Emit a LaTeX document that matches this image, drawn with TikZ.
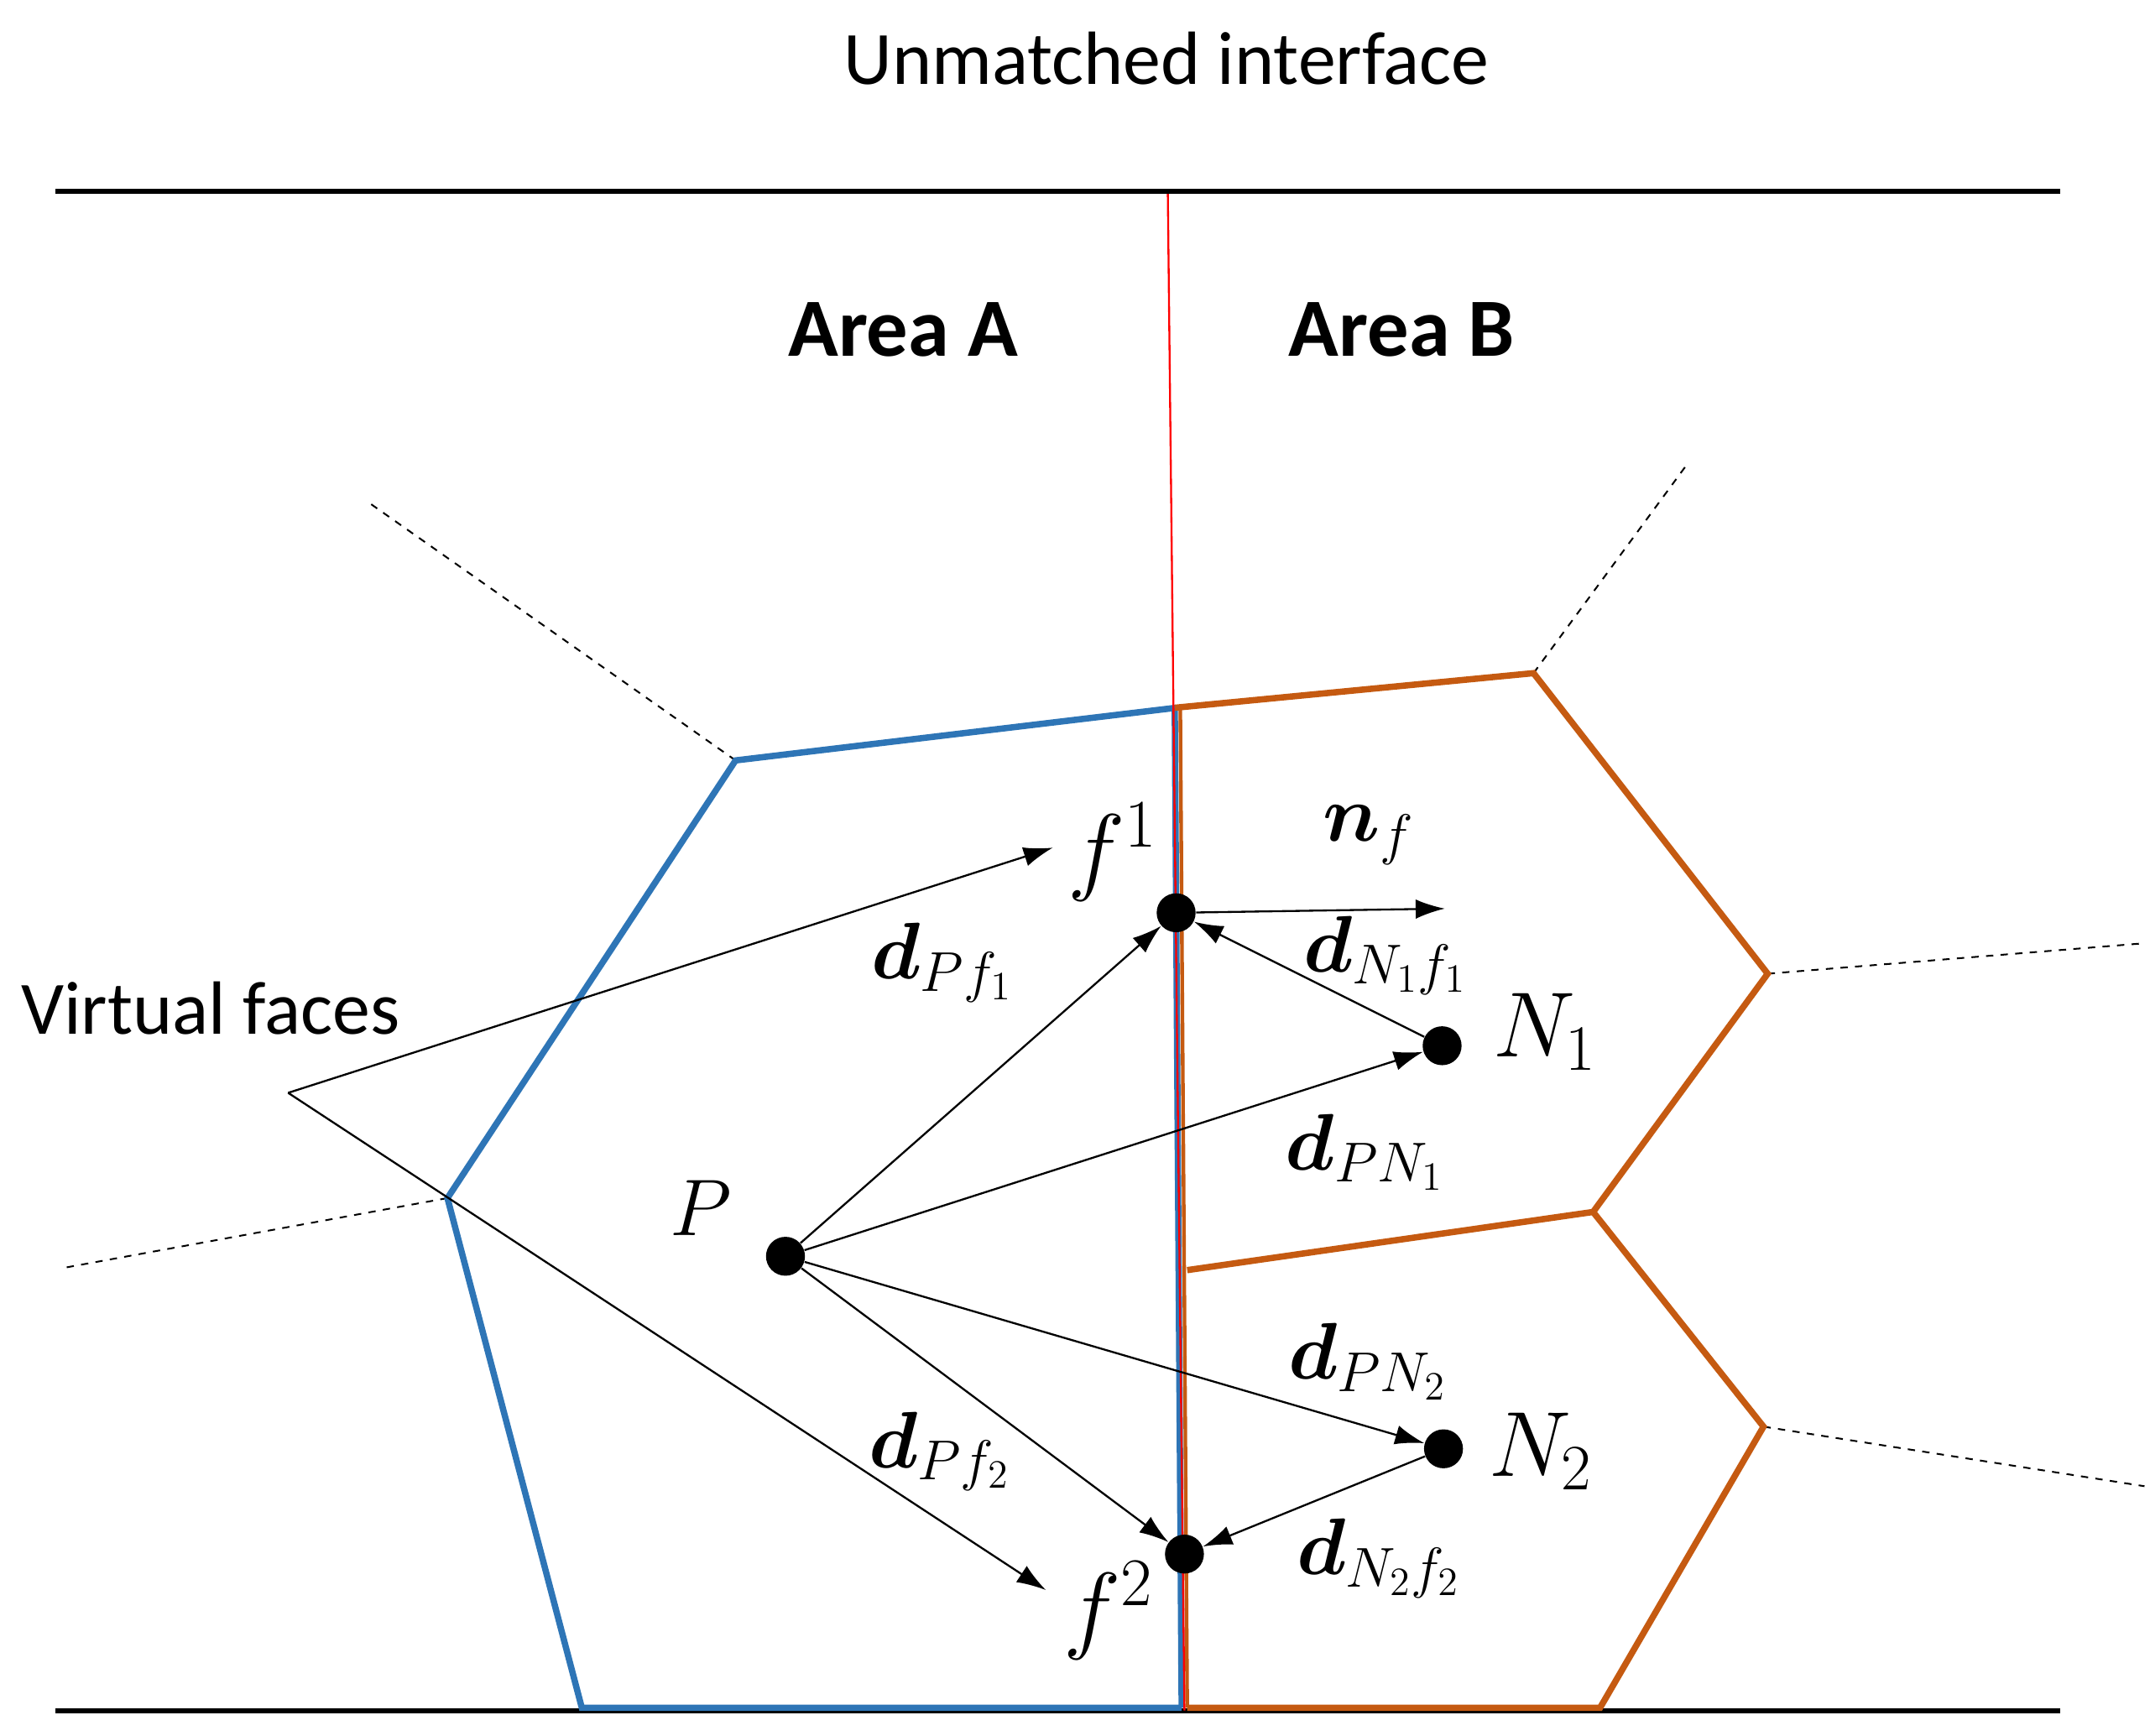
\documentclass[tikz,border=0pt]{standalone}
\usepackage{fix-cm}
\usepackage{amsmath,bm}
\usepackage{fontspec}
\setmainfont{Carlito}
\usetikzlibrary{arrows.meta}
\begin{document}
\begin{tikzpicture}[x=0.02cm,y=-0.02cm,
  arr/.style={-{Latex[length=12pt,width=8pt]},line width=0.8pt},
  dot/.style={circle,fill=black,inner sep=0pt,minimum size=16pt},
  dsh/.style={dashed,line width=0.7pt},
  blue1/.style={draw={rgb,255:red,46;green,117;blue,182},line width=2.6pt},
  or1/.style={draw={rgb,255:red,197;green,90;blue,17},line width=2.6pt},
  lab/.style={font=\fontsize{31}{36}\selectfont},
  ml/.style={font=\fontsize{33}{38}\selectfont}]
\useasboundingbox (0,0) rectangle (1552,1253);
\draw[line width=2.2pt] (40,138) -- (1487,138);
\draw[line width=2.2pt] (40,1235) -- (1487,1235);
% dashed
\draw[dsh] (531,549) -- (265,362);
\draw[dsh] (323,865) -- (48,915);
\draw[dsh] (1107,486) -- (1218,335);
\draw[dsh] (1276,703) -- (1548,681);
\draw[dsh] (1273,1030) -- (1548,1073);
% cells
\draw[blue1,line join=miter] (849,511) -- (531,549) -- (323,865) -- (420,1233) -- (853,1233);
\draw[blue1] (848,511) -- (853,1233);
\draw[or1] (848,511) -- (1107,486) -- (1276,703) -- (1150,875) -- (857,917);
\draw[or1] (1150,875) -- (1273,1030) -- (1155,1233) -- (857,1233);
\draw[or1,line width=1.5pt] (852,511) -- (857,1233);
\draw[red,line width=0.8pt] (843,140) -- (855,1235);
% points
\node[dot] (P) at (567,907) {};
\node[dot] (F1) at (849,659) {};
\node[dot] (N1) at (1041,755) {};
\node[dot] (N2) at (1042,1046) {};
\node[dot] (F2) at (855,1122) {};
\coordinate (nf) at (1043,656);
\coordinate (VF) at (208,789);
\coordinate (VF1) at (760,612);
\coordinate (VF2) at (755,1148);
\draw[arr] (P) -- (F1);
\draw[arr] (P) -- (N1);
\draw[arr] (P) -- (N2);
\draw[arr] (P) -- (F2);
\draw[arr] (N1) -- (F1);
\draw[arr] (N2) -- (F2);
\draw[arr] (F1) -- (nf);
\draw[arr] (VF) -- (VF1);
\draw[arr] (VF) -- (VF2);
% labels
\node[lab] (t1) at (842,42) {Unmatched interface};
\node[lab,font=\fontsize{34}{40}\selectfont\bfseries] (aa) at (652,238) {Area A};
\node[lab,font=\fontsize{34}{40}\selectfont\bfseries] (ab) at (1012,238) {Area B};
\node[lab] (vf) at (152,728) {Virtual faces};
\node[ml] (lP) at (506,872) {$P$};
\node[ml,font=\fontsize{40}{46}\selectfont] (lf1) at (803,615) {$f^1$};
\node[ml,font=\fontsize{40}{46}\selectfont] (lf2) at (800,1163) {$f^2$};
\node[ml] (lnf) at (988,603) {$\bm{n}_f$};
\node[ml] (l1) at (680,695) {$\bm{d}_{Pf_1}$};
\node[ml] (l2) at (1000,690) {$\bm{d}_{N_1f_1}$};
\node[ml,font=\fontsize{38}{44}\selectfont] (lN1) at (1115,745) {$N_1$};
\node[ml] (l3) at (985,832) {$\bm{d}_{PN_1}$};
\node[ml] (l4) at (987,983) {$\bm{d}_{PN_2}$};
\node[ml,font=\fontsize{38}{44}\selectfont] (lN2) at (1112,1048) {$N_2$};
\node[ml] (l5) at (678,1048) {$\bm{d}_{Pf_2}$};
\node[ml] (l6) at (995,1125) {$\bm{d}_{N_2f_2}$};
\end{tikzpicture}
\end{document}
